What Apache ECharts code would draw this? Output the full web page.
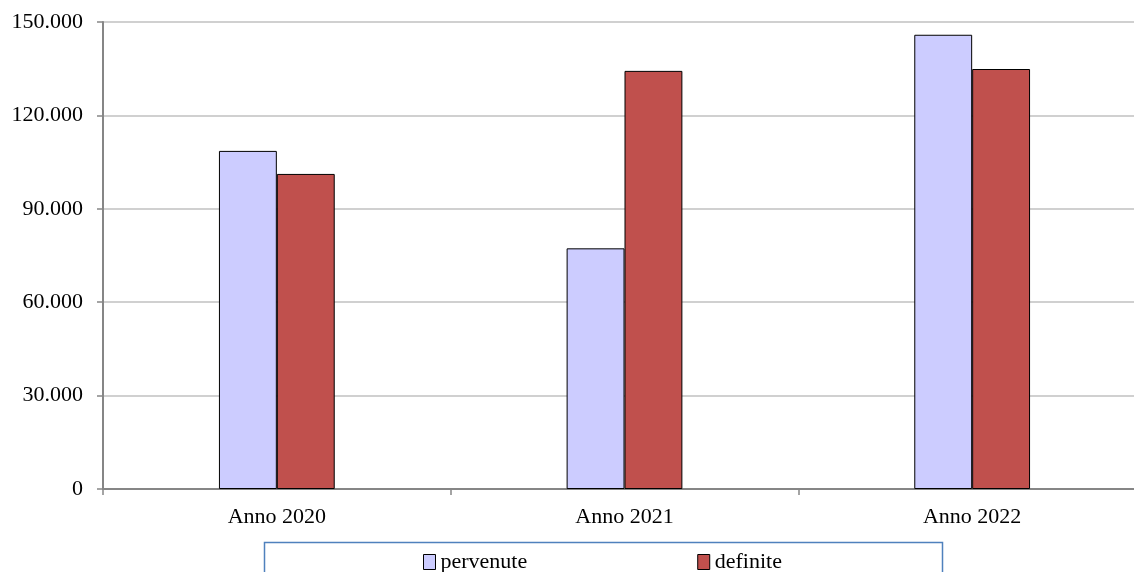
<!DOCTYPE html>
<html><head><meta charset="utf-8">
<script src="https://cdn.jsdelivr.net/npm/echarts@6/dist/echarts.min.js"></script>
<style>html,body{margin:0;padding:0;background:#fff}#c{width:1134px;height:572px}</style>
</head><body><div id="c"></div>
<script>
const categories = ['Anno 2020', 'Anno 2021', 'Anno 2022'];
const pervenute = [108600, 77300, 145900];
const definite = [101200, 134300, 134900];
const seriesNames = ['pervenute', 'definite'];

function fmt(v){ return String(Math.round(v)).replace(/\B(?=(\d{3})+(?!\d))/g, '.'); }
const font = '"Liberation Serif", serif';
const chart = echarts.init(document.getElementById('c'));
chart.setOption({
  animation: false,
  grid: { left: 103, top: 22, width: 1043, height: 467, outerBoundsMode: 'none' },
  xAxis: {
    type: 'category', data: categories,
    axisLine: { lineStyle: { color: '#868686', width: 2 } },
    axisTick: { show: true, length: 6, lineStyle: { color: '#868686', width: 1.5 } },
    axisLabel: { color: '#000', fontFamily: font, fontSize: 22, margin: 17 }
  },
  yAxis: {
    type: 'value', min: 0, max: 150000, interval: 30000,
    axisLine: { show: true, lineStyle: { color: '#868686', width: 2 } },
    axisTick: { show: true, length: 6, lineStyle: { color: '#868686', width: 1.5 } },
    axisLabel: { color: '#000', fontFamily: font, fontSize: 22, margin: 20, formatter: fmt },
    splitLine: { lineStyle: { color: '#c0c0c0', width: 1.5 } }
  },
  legend: {
    data: seriesNames, left: 418, top: 546, itemWidth: 12, itemHeight: 15, itemGap: 170,
    icon: 'rect',
    itemStyle: { borderColor: '#000', borderWidth: 1 },
    textStyle: { fontFamily: font, fontSize: 22, color: '#000' }
  },
  graphic: [{ type: 'rect', left: 262, top: 540, shape: { width: 678, height: 40 },
    style: { fill: 'none', stroke: '#4F81BD', lineWidth: 1.5 }, silent: true }],
  series: [
    { name: seriesNames[0], type: 'bar', data: pervenute, barGap: '0%', barCategoryGap: '66.7%',
      itemStyle: { color: '#CCCCFF', borderColor: '#000', borderWidth: 1 } },
    { name: seriesNames[1], type: 'bar', data: definite,
      itemStyle: { color: '#C0504D', borderColor: '#000', borderWidth: 1 } }
  ]
});
</script></body></html>
